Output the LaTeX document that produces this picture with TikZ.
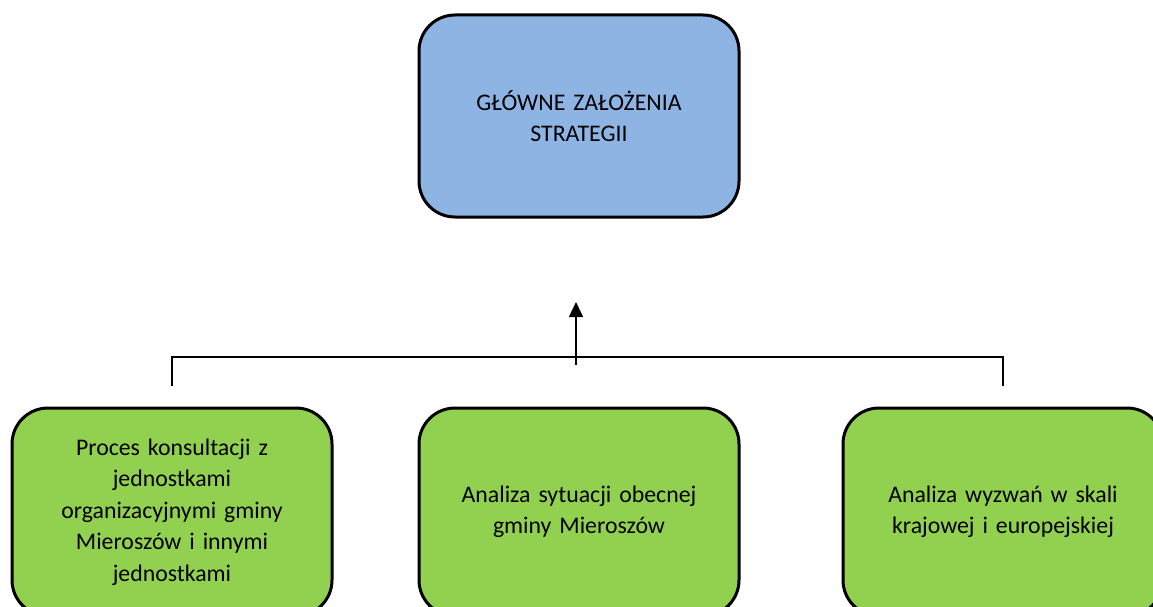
\documentclass[tikz,border=0pt]{standalone}
\usepackage{fontspec}
\setmainfont{Carlito}
\usetikzlibrary{arrows.meta}
\definecolor{boxblue}{HTML}{8EB4E3}
\definecolor{boxgreen}{HTML}{92D050}
\tikzset{
  box/.style={draw=black, line width=3pt, rounded corners=36pt, align=center,
    inner sep=0pt, font=\fontsize{23.8}{31.5}\selectfont, text=black},
  topbox/.style={box, fill=boxblue, minimum width=320pt, minimum height=202pt, text width=300pt},
  lowbox/.style={box, fill=boxgreen, minimum width=320pt, minimum height=208pt, text width=300pt},
  conn/.style={draw=black, line width=1.5pt}
}
\begin{document}
\begin{tikzpicture}[x=1pt,y=-1pt]
\useasboundingbox (0,0) rectangle (1153,607);
\clip (0,0) rectangle (1153,607);
\node[topbox] (top) at (579,116) {GŁÓWNE ZAŁOŻENIA\\STRATEGII};
\node[lowbox] (l) at (172,512) {Proces konsultacji z\\jednostkami\\organizacyjnymi gminy\\Mieroszów i innymi\\jednostkami};
\node[lowbox] (m) at (579,512) {Analiza sytuacji obecnej\\gminy Mieroszów};
\node[lowbox] (r) at (1003,512) {Analiza wyzwań w skali\\krajowej i europejskiej};
\coordinate (lj) at (172,386);
\coordinate (rj) at (1003,386);
\coordinate (lc) at (172,357);
\coordinate (rc) at (1003,357);
\coordinate (as) at (576,365);
\coordinate (at) at (576,302);
\draw[conn] (lj) -- (lc) -- (rc) -- (rj);
\draw[conn, -{Triangle[length=15pt,width=14pt]}] (as) -- (at);
\end{tikzpicture}
\end{document}
